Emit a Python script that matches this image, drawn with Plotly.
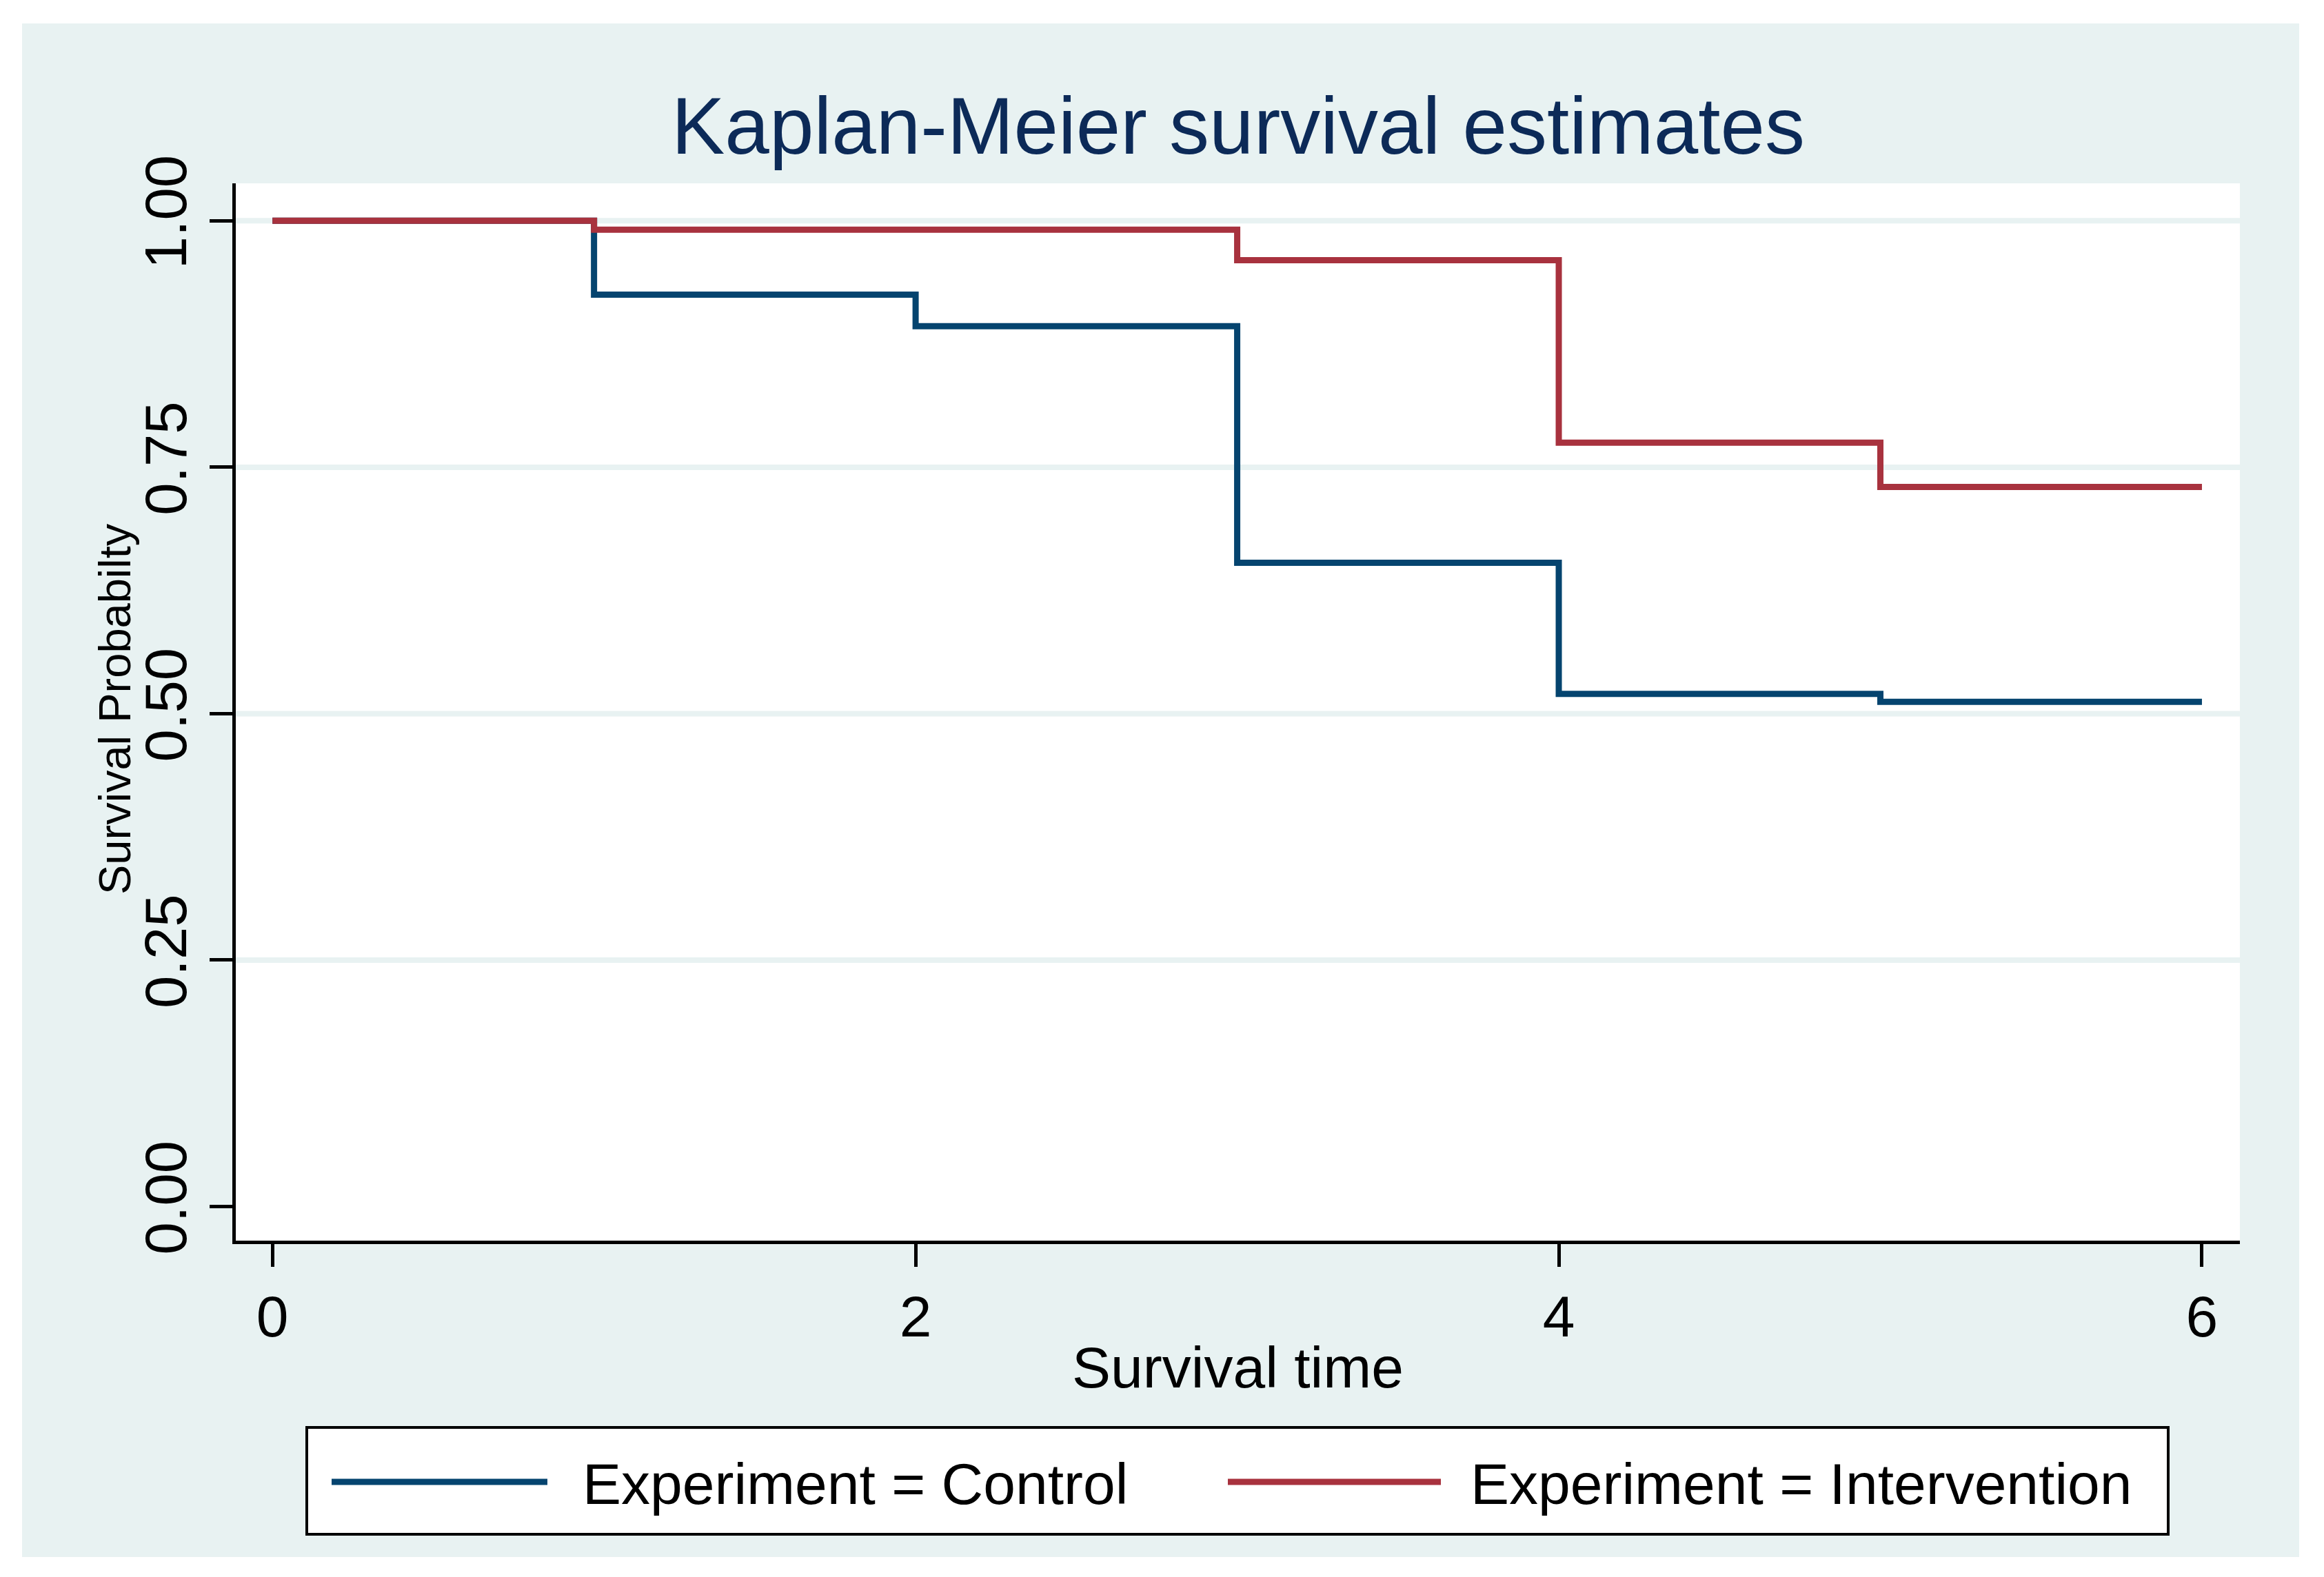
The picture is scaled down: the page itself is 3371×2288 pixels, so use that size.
import plotly.graph_objects as go

# ---- data ----
time_points = [0, 1, 2, 3, 4, 5, 6]
control = [1.000, 0.925, 0.893, 0.653, 0.520, 0.512, 0.512]
intervention = [1.000, 0.991, 0.991, 0.960, 0.775, 0.730, 0.730]
series_names = ["Experiment = Control", "Experiment = Intervention"]
x_ticks = [0, 2, 4, 6]
y_ticks = [0, 0.25, 0.5, 0.75, 1.0]
grid_values = [0.25, 0.5, 0.75, 1.0]

title_text = "Kaplan-Meier survival estimates"
x_title = "Survival time"
y_title = "Survival Probabilty"

# ---- style ----
OFF = 8                       # default page body margin
W, H = 3371 - OFF, 2288 - OFF
ML, MR, MT, MB = 342 - OFF, 122, 266 - OFF, 488
PW, PH = W - ML - MR, H - MT - MB
BLUE = "#05446f"
RED = "#a8323e"
TEAL = "#e8f2f2"
NAVY = "#0c2a58"
FONT = "Liberation Sans, Arial, sans-serif"


def px_x(px):
    """page pixel x -> paper fraction"""
    return (px - OFF - ML) / PW


def px_y(py):
    """page pixel y -> paper fraction"""
    return (H - MB - (py - OFF)) / PH


fig = go.Figure()
fig.add_trace(go.Scatter(x=time_points, y=control, mode="lines", name=series_names[0],
                         line=dict(color=BLUE, width=9, shape="hv"), showlegend=False))
fig.add_trace(go.Scatter(x=time_points, y=intervention, mode="lines", name=series_names[1],
                         line=dict(color=RED, width=9, shape="hv"), showlegend=False))

shapes = []
# outer graph region
shapes.append(dict(type="rect", xref="paper", yref="paper", layer="below",
                   x0=px_x(32), x1=px_x(3335), y0=px_y(2259), y1=px_y(34),
                   fillcolor=TEAL, line=dict(width=0)))
# plot region
shapes.append(dict(type="rect", xref="x domain", yref="y domain", layer="below",
                   x0=0, x1=1, y0=0, y1=1, fillcolor="white", line=dict(width=0)))
# gridlines
for g in grid_values:
    shapes.append(dict(type="line", xref="x domain", yref="y", layer="below",
                       x0=0, x1=1, y0=g, y1=g, line=dict(color=TEAL, width=8)))
# legend box
shapes.append(dict(type="rect", xref="paper", yref="paper",
                   x0=px_x(445), x1=px_x(3145), y0=px_y(2226), y1=px_y(2071),
                   fillcolor="white", line=dict(color="black", width=4)))
legend_y = px_y(2150)
shapes.append(dict(type="line", xref="paper", yref="paper",
                   x0=px_x(481), x1=px_x(794), y0=legend_y, y1=legend_y,
                   line=dict(color=BLUE, width=9)))
shapes.append(dict(type="line", xref="paper", yref="paper",
                   x0=px_x(1781), x1=px_x(2090), y0=legend_y, y1=legend_y,
                   line=dict(color=RED, width=9)))

annotations = [
    dict(text=series_names[0], xref="paper", yref="paper", x=px_x(843), y=px_y(2153),
         xanchor="left", yanchor="middle", showarrow=False,
         font=dict(size=84, color="black", family=FONT)),
    dict(text=series_names[1], xref="paper", yref="paper", x=px_x(2131), y=px_y(2153),
         xanchor="left", yanchor="middle", showarrow=False,
         font=dict(size=84, color="black", family=FONT)),
    dict(text=title_text, xref="paper", yref="paper", x=0.5, y=px_y(183),
         xanchor="center", yanchor="middle", showarrow=False,
         font=dict(size=116, color=NAVY, family=FONT)),
    dict(text=y_title, xref="paper", yref="paper", x=px_x(167), y=px_y(1029),
         xanchor="center", yanchor="middle", textangle=-90, showarrow=False,
         font=dict(size=65, color="black", family=FONT)),
]

fig.update_layout(
    width=W, height=H,
    margin=dict(l=ML, r=MR, t=MT, b=MB, pad=0),
    paper_bgcolor="white", plot_bgcolor="white",
    font=dict(family=FONT, color="black"),
    shapes=shapes, annotations=annotations,
    showlegend=False,
)
fig.update_xaxes(range=[-0.114, 6.118], tickvals=x_ticks, ticks="outside", ticklen=33,
                 tickwidth=5, tickcolor="black", showline=True, linewidth=5, linecolor="black",
                 showgrid=False, zeroline=False, tickfont=dict(size=84),
                 title=dict(text=x_title, font=dict(size=84), standoff=0))
fig.update_yaxes(range=[-0.0346, 1.038], tickvals=y_ticks, tickformat=".2f", tickangle=-90,
                 ticks="outside", ticklen=33, tickwidth=5, tickcolor="black",
                 showline=True, linewidth=5, linecolor="black",
                 showgrid=False, zeroline=False, tickfont=dict(size=85))

fig.write_html("out.html")
